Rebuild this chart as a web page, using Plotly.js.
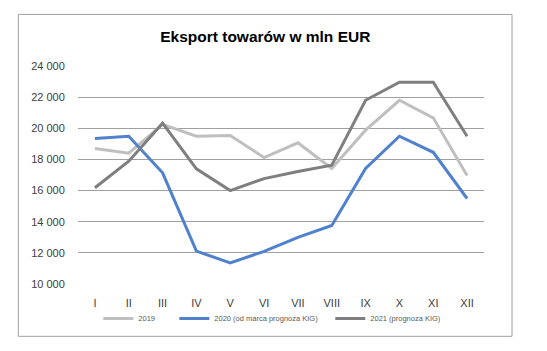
<!DOCTYPE html>
<html>
<head>
<meta charset="utf-8">
<script src="https://cdn.plot.ly/plotly-3.0.1.min.js"></script>
<style>html,body{margin:0;padding:0;background:#fff;}#chart{width:547px;height:351px;}</style>
</head>
<body>
<div id="chart"></div>
<script>
const months = ["I","II","III","IV","V","VI","VII","VIII","IX","X","XI","XII"];
const s2019 = [18700,18400,20250,19490,19540,18120,19070,17420,19880,21800,20670,16970];
const s2020 = [19340,19490,17140,12110,11360,12100,13000,13760,17420,19490,18460,15490];
const s2021 = [16180,17890,20330,17400,16000,16770,17220,17630,21800,22960,22960,19490];
const yTicks = [10000,12000,14000,16000,18000,20000,22000,24000];
const yTickText = ["10 000","12 000","14 000","16 000","18 000","20 000","22 000","24 000"];

const traces = [
  {x: months, y: s2019, name: "2019", type: "scatter", mode: "lines", line: {color: "#bfbfbf", width: 3}, legend: "legend"},
  {x: months, y: s2020, name: "2020 (od marca prognoza KIG)", type: "scatter", mode: "lines", line: {color: "#4f81cd", width: 3}, legend: "legend2"},
  {x: months, y: s2021, name: "2021 (prognoza KIG)", type: "scatter", mode: "lines", line: {color: "#7f7f7f", width: 3}, legend: "legend3"}
];

function leg(x) {
  return {orientation: "h", x: x, xanchor: "left", y: -0.158, yanchor: "middle",
          font: {size: 7.5, color: "#595959"}, itemwidth: 30, bgcolor: "rgba(0,0,0,0)"};
}

const layout = {
  width: 547, height: 351,
  margin: {l: 78, r: 63, t: 66, b: 67},
  paper_bgcolor: "#fff", plot_bgcolor: "#fff",
  font: {family: "Liberation Sans, Arial, sans-serif", color: "#404040"},
  title: {text: "<b>Eksport towarów w mln EUR</b>", x: 0.485, xanchor: "center", y: 0.897, yanchor: "middle",
          font: {size: 15.5, color: "#000", family: "Liberation Sans, Arial, sans-serif"}},
  xaxis: {type: "category", range: [-0.5, 11.5], showgrid: false, zeroline: false, showline: false,
          ticks: "outside", ticklen: 9, tickcolor: "rgba(0,0,0,0)", tickfont: {size: 11, color: "#404040"}},
  yaxis: {range: [10000, 24000], tickvals: yTicks, ticktext: yTickText, showgrid: true, gridcolor: "#a0a0a0", gridwidth: 1,
          zeroline: false, showline: false, ticks: "outside", ticklen: 10, tickcolor: "rgba(0,0,0,0)",
          tickfont: {size: 11, color: "#404040"}},
  showlegend: true,
  legend: leg(0.05),
  legend2: leg(0.2372),
  legend3: leg(0.6214),
  shapes: [{type: "rect", xref: "paper", yref: "paper", x0: -0.147, x1: 1.069, y0: -0.240, y1: 1.2366,
            line: {color: "#a0a0a0", width: 1}, fillcolor: "rgba(0,0,0,0)", layer: "below"}]
};

Plotly.newPlot("chart", traces, layout, {displayModeBar: false, staticPlot: true});
</script>
</body>
</html>
